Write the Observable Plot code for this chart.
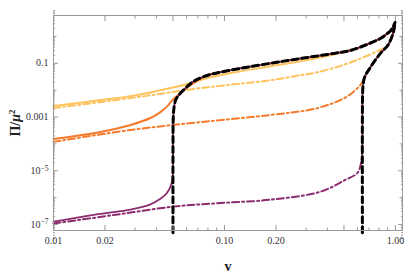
<!DOCTYPE html>
<html><head><meta charset="utf-8">
<script src="https://cdn.jsdelivr.net/npm/d3@7"></script>
<script src="https://cdn.jsdelivr.net/npm/@observablehq/plot@0.6"></script>
<style>body{margin:0;background:#fff}</style>
</head><body><div id="chart"></div>
<script>
// Tick values and labels
const xTickValues = [0.01, 0.02, 0.05, 0.1, 0.2, 0.5, 1];
const xTickLabels = ["0.01", "0.02", "0.05", "0.10", "0.20", "0.50", "1.00"];
const xMinorTicks = [0.03,0.04,0.06,0.07,0.08,0.09,0.3,0.4,0.6,0.7,0.8,0.9];
const yTickValues = [1e-1, 1e-3, 1e-5, 1e-7];
const yTickLabels = ["0.1", "0.001", "10^-5", "10^-7"];
const yMidTicks = [1, 1e-2, 1e-4, 1e-6];
const yMinorTicks = [];
for (let e = -8; e <= 0; e++) for (let m = 2; m <= 9; m++) yMinorTicks.push(m * Math.pow(10, e));

// Series (v, Π/μ²)
const blackA = [[0.05,5e-8],[0.05,1e-4],[0.0502,1e-3],[0.0508,2.5e-3],[0.052,4.5e-3],[0.0545,7e-3],[0.058,0.0105],[0.065,0.02],[0.08,0.036],[0.108,0.055],[0.186,0.1],[0.278,0.15],[0.44,0.234],[0.546,0.30],[0.686,0.51],[0.817,0.84],[0.898,1.29],[0.935,1.6],[0.97,2.3],[0.995,3.3]];
const blackB = [[0.641,5e-8],[0.641,2e-3],[0.643,8e-3],[0.647,0.015],[0.66,0.03],[0.714,0.071],[0.817,0.234],[0.9,0.45],[0.935,0.71],[0.975,1.5],[0.995,3.3]];
const yellowSolid = [[0.01,2.55e-3],[0.0188,4.3e-3],[0.0282,6e-3],[0.0422,0.01],[0.0633,0.0182],[0.0828,0.03],[0.124,0.05],[0.186,0.077],[0.278,0.119],[0.44,0.215],[0.686,0.5],[0.817,0.84],[0.898,1.29],[0.935,1.6],[0.97,2.3],[0.995,3.3]];
const yellowDash = [[0.01,2.15e-3],[0.0282,5.06e-3],[0.0724,0.0119],[0.186,0.0234],[0.278,0.036],[0.35,0.0464],[0.51,0.092],[0.65,0.167],[0.851,0.36],[0.9,0.45],[0.935,0.71],[0.975,1.5],[0.995,3.3]];
const orangeSolid = [[0.01,1.53e-4],[0.0188,2.8e-4],[0.0282,5.06e-4],[0.0369,9.2e-4],[0.0422,1.53e-3],[0.0464,2.55e-3],[0.049,3.9e-3],[0.0517,5.5e-3],[0.0553,7.7e-3],[0.0633,0.0153],[0.08,0.036],[0.108,0.055],[0.186,0.1],[0.278,0.15],[0.44,0.234],[0.546,0.30],[0.686,0.51],[0.817,0.84],[0.898,1.29],[0.935,1.6],[0.97,2.3],[0.995,3.3]];
const orangeDash = [[0.01,1.19e-4],[0.0282,3.3e-4],[0.0724,6.5e-4],[0.186,1.19e-3],[0.35,2.15e-3],[0.503,5.06e-3],[0.583,0.01],[0.63,0.017],[0.66,0.03],[0.714,0.071],[0.817,0.234],[0.9,0.45],[0.935,0.71],[0.975,1.5],[0.995,3.3]];
const purpleSolid = [[0.01,1.29e-7],[0.0188,2.5e-7],[0.0282,3.6e-7],[0.0369,5.6e-7],[0.0422,9.2e-7],[0.0452,1.29e-6],[0.047,1.82e-6],[0.0483,2.55e-6],[0.0496,4.64e-6],[0.05,1.09e-5],[0.05,1e-4],[0.0502,1e-3],[0.0508,2.5e-3],[0.052,4.5e-3],[0.0545,7e-3],[0.058,0.0105],[0.065,0.02],[0.08,0.036],[0.108,0.055],[0.186,0.1],[0.278,0.15],[0.44,0.234],[0.546,0.30],[0.686,0.51],[0.817,0.84],[0.898,1.29],[0.935,1.6],[0.97,2.3],[0.995,3.3]];
const purpleDash = [[0.01,1.09e-7],[0.0224,2.25e-7],[0.0503,4.64e-7],[0.0948,6.3e-7],[0.186,8.4e-7],[0.364,1.67e-6],[0.503,4.4e-6],[0.6,8.4e-6],[0.63,2e-5],[0.641,1e-4],[0.641,2e-3],[0.643,8e-3],[0.647,0.015],[0.66,0.03],[0.714,0.071],[0.817,0.234],[0.9,0.45],[0.935,0.71],[0.975,1.5],[0.995,3.3]];

const cYellow = "#fdc35c", cOrange = "#f47a2c", cPurple = "#8b2c6e";
const dashDot = "7,3,2,3";
const X = d => d[0], Y = d => d[1];
const crv = "catmull-rom";

const plot = Plot.plot({
  width: 407, height: 276,
  marginLeft: 53, marginRight: 5, marginTop: 15, marginBottom: 46,
  style: {fontFamily: "Liberation Serif", fontSize: "10px", background: "#fff"},
  x: {type: "log", domain: [0.01, 1.1]},
  y: {type: "log", domain: [6e-8, 6]},
  marks: [
    Plot.line(yellowSolid, {x: X, y: Y, stroke: cYellow, strokeWidth: 2, curve: crv}),
    Plot.line(yellowDash, {x: X, y: Y, stroke: cYellow, strokeWidth: 2, strokeDasharray: dashDot, curve: crv}),
    Plot.line(orangeSolid, {x: X, y: Y, stroke: cOrange, strokeWidth: 2, curve: crv}),
    Plot.line(orangeDash, {x: X, y: Y, stroke: cOrange, strokeWidth: 2, strokeDasharray: dashDot, curve: crv}),
    Plot.line(purpleSolid, {x: X, y: Y, stroke: cPurple, strokeWidth: 1.8, curve: crv}),
    Plot.line(purpleDash, {x: X, y: Y, stroke: cPurple, strokeWidth: 2, strokeDasharray: dashDot, curve: crv}),
    Plot.line(blackA, {x: X, y: Y, stroke: "#000", strokeWidth: 3, strokeDasharray: "6,4", curve: crv}),
    Plot.line(blackB, {x: X, y: Y, stroke: "#000", strokeWidth: 3, strokeDasharray: "6,4", curve: crv}),
    Plot.frame({stroke: "#999"}),
    // inward ticks
    Plot.axisX(xTickValues, {anchor: "bottom", tickSize: 5, dy: -5, fill: "none", stroke: "#999", label: null}),
    Plot.axisX(xTickValues, {anchor: "top", tickSize: 5, dy: 5, fill: "none", stroke: "#999", label: null}),
    Plot.axisX(xMinorTicks, {anchor: "bottom", tickSize: 2.5, dy: -2.5, fill: "none", stroke: "#999", label: null}),
    Plot.axisX(xMinorTicks, {anchor: "top", tickSize: 2.5, dy: 2.5, fill: "none", stroke: "#999", label: null}),
    Plot.axisY(yTickValues, {anchor: "left", tickSize: 5, dx: 5, fill: "none", stroke: "#999", label: null}),
    Plot.axisY(yTickValues, {anchor: "right", tickSize: 5, dx: -5, fill: "none", stroke: "#999", label: null}),
    Plot.axisY(yMidTicks, {anchor: "left", tickSize: 3.5, dx: 3.5, fill: "none", stroke: "#999", label: null}),
    Plot.axisY(yMidTicks, {anchor: "right", tickSize: 3.5, dx: -3.5, fill: "none", stroke: "#999", label: null}),
    Plot.axisY(yMinorTicks, {anchor: "left", tickSize: 2, dx: 2, fill: "none", stroke: "#999", label: null}),
    Plot.axisY(yMinorTicks, {anchor: "right", tickSize: 2, dx: -2, fill: "none", stroke: "#999", label: null}),
    // labels
    Plot.axisX(xTickValues, {anchor: "bottom", tickSize: 0, tickPadding: 6, tickFormat: d => xTickLabels[xTickValues.indexOf(d)], fill: "#333", label: null}),
    Plot.axisY(yTickValues, {anchor: "left", tickSize: 0, tickPadding: 5, tickFormat: d => yTickLabels[yTickValues.indexOf(d)], fill: "#333", label: null}),
    Plot.text(["v"], {frameAnchor: "bottom", dy: 36, text: d => d, textAnchor: "middle", lineAnchor: "middle", fontWeight: "bold", fontSize: 14, fill: "#222"}),
    Plot.text(["Π/μ²"], {frameAnchor: "left", dx: -38, rotate: -90, text: d => d, textAnchor: "middle", lineAnchor: "middle", fontWeight: "bold", fontSize: 14, fill: "#222"})
  ]
});
const svg = d3.select(plot);
svg.selectAll("text").filter(function() { return this.textContent === "Π/μ²"; }).each(function() {
  const t = d3.select(this);
  t.text(null);
  t.append("tspan").text("Π/");
  t.append("tspan").attr("font-style", "italic").text("μ");
  t.append("tspan").attr("font-size", "9px").attr("dy", "-0.5em").text("2");
});
svg.selectAll("text").filter(function() { return /^10\^-\d$/.test(this.textContent); }).each(function() {
  const t = d3.select(this);
  const exp = this.textContent.split("^-")[1];
  t.text(null);
  t.append("tspan").text("10");
  t.append("tspan").attr("font-size", "7.5px").attr("dy", "-0.45em").text("\u2212" + exp);
});
document.getElementById("chart").appendChild(plot);
</script>
</body></html>
